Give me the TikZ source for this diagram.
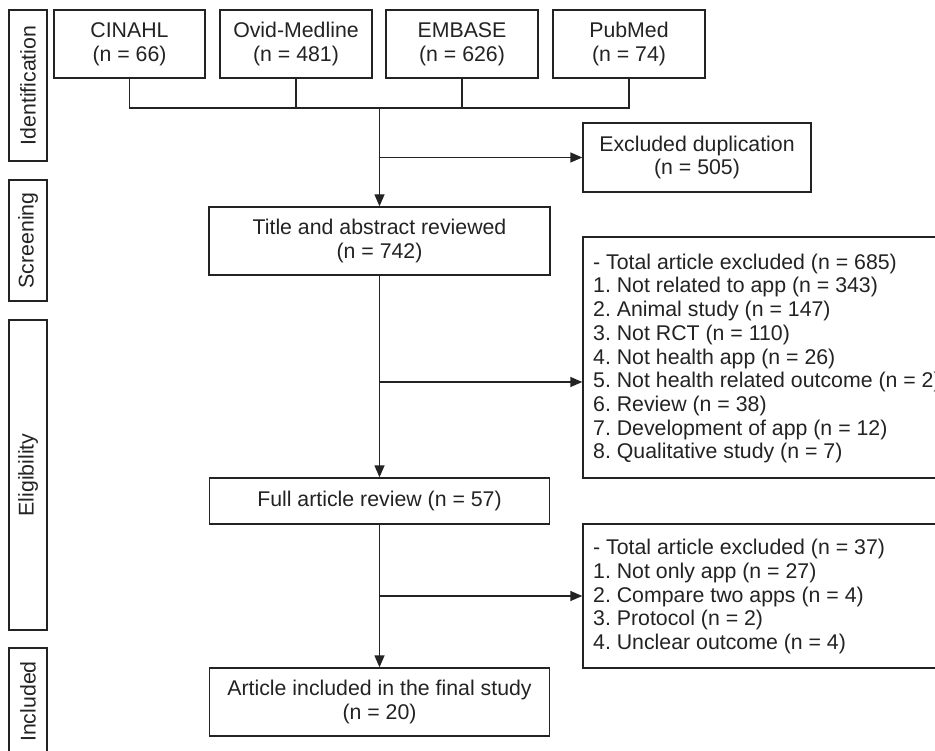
\documentclass[tikz,border=0pt]{standalone}
\usepackage{fontspec}
\setmainfont{Liberation Sans}
\frenchspacing
\usetikzlibrary{arrows.meta,positioning}
\definecolor{ink}{RGB}{35,35,35}
\begin{document}
\begin{tikzpicture}[x=1pt,y=-1pt,
  every node/.style={font=\fontsize{21.3pt}{23.7pt}\selectfont, text=ink},
  box/.style={draw=ink, line width=1.4pt, inner sep=0pt, align=center},
  listbox/.style={draw=ink, line width=1.4pt, inner sep=0pt},
  listtext/.style={inner sep=0pt, align=left, anchor=west},
  stage/.style={draw=ink, line width=1.4pt, inner sep=0pt, minimum height=38pt, rotate=90},
  conn/.style={draw=ink, line width=1.4pt},
  arr/.style={conn, -{Triangle[length=12pt,width=10pt]}}]
\useasboundingbox (0,0) rectangle (935,751);
\clip (0,0) rectangle (935,751);
\fill[white] (0,0) rectangle (935,751);

% stage labels
\node[stage, minimum width=151pt] (sid) at (28,85.5) {Identification};
\node[stage, minimum width=121pt] (sscr) at (28,240.5) {Screening};
\node[stage, minimum width=310pt] (selig) at (28,475) {Eligibility};
\node[stage, minimum width=107pt] (sinc) at (28,701.5) {Included};

% sources
\node[box, minimum width=151pt, minimum height=68pt] (cin) at (129.5,44) {CINAHL\\(n = 66)};
\node[box, minimum width=152pt, minimum height=68pt] (ovid) at (296,44) {Ovid-Medline\\(n = 481)};
\node[box, minimum width=152pt, minimum height=68pt] (emb) at (462,44) {EMBASE\\(n = 626)};
\node[box, minimum width=152pt, minimum height=68pt] (pub) at (629,44) {PubMed\\(n = 74)};

\node[box, minimum width=228pt, minimum height=69pt] (dup) at (697,157.5) {Excluded duplication\\(n = 505)};
\node[box, minimum width=341pt, minimum height=68pt] (title) at (379.5,241) {Title and abstract reviewed\\(n = 742)};
\node[listbox, minimum width=377pt, minimum height=241pt] (ex1) at (771.5,357.5) {};
\node[listtext] (ex1t) at (593,358.5) {- Total article excluded (n = 685)\\
1. Not related to app (n = 343)\\
2. Animal study (n = 147)\\
3. Not RCT (n = 110)\\
4. Not health app (n = 26)\\
5. Not health related outcome (n = 2)\\
6. Review (n = 38)\\
7. Development of app (n = 12)\\
8. Qualitative study (n = 7)};
\node[box, minimum width=340pt, minimum height=46pt] (full) at (379.5,501) {Full article review (n = 57)};
\node[listbox, minimum width=377pt, minimum height=144pt] (ex2) at (771.5,596) {};
\node[listtext] (ex2t) at (593,596.5) {- Total article excluded (n = 37)\\
1. Not only app (n = 27)\\
2. Compare two apps (n = 4)\\
3. Protocol (n = 2)\\
4. Unclear outcome (n = 4)};
\node[box, minimum width=340pt, minimum height=68pt] (final) at (379.5,702) {Article included in the final study\\(n = 20)};

% connectors
\coordinate (j) at (379.5,108);
\coordinate (b1) at (379.5,157.5);
\coordinate (b2) at (379.5,382);
\coordinate (b3) at (379.5,596);
\draw[conn] (cin.south) |- (pub.south |- j) -- (pub.south);
\draw[conn] (ovid.south) -- (ovid.south |- j);
\draw[conn] (emb.south) -- (emb.south |- j);
\draw[arr] (j) -- (title.north);
\draw[arr] (b1) -- (dup.west);
\draw[arr] (title.south) -- (full.north);
\draw[arr] (b2) -- (b2 -| ex1.west);
\draw[arr] (full.south) -- (final.north);
\draw[arr] (b3) -- (ex2.west);
\end{tikzpicture}
\end{document}
